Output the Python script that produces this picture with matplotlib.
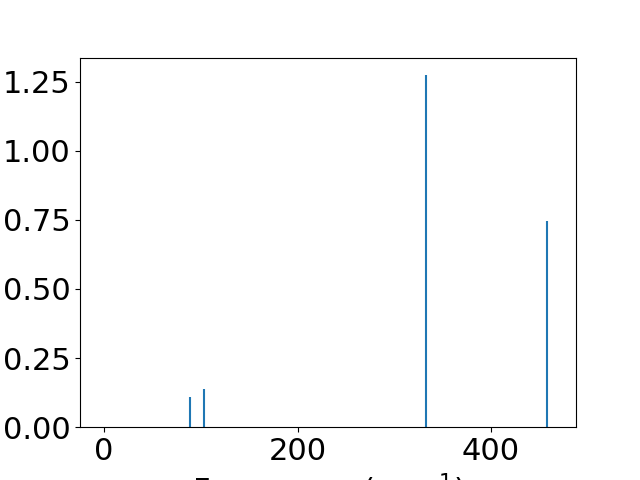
import matplotlib
matplotlib.use("Agg")
import matplotlib.pyplot as plt

# peak positions (cm^-1) and intensities
freqs = [89, 103.5, 333, 458]
intensities = [0.109, 0.138, 1.275, 0.746]

plt.rcParams["font.size"] = 22

fig, ax = plt.subplots(figsize=(6.4, 4.8), dpi=100)
ax.vlines(freqs, 0, intensities, color="tab:blue", linewidth=1.5)
ax.set_xlim(-24.8, 487.8)
ax.set_ylim(0, 1.337)
ax.set_yticks([0, 0.25, 0.5, 0.75, 1.0, 1.25])
ax.set_xlabel("Frequency (cm$^{-1}$)")

fig.savefig("out.png")
